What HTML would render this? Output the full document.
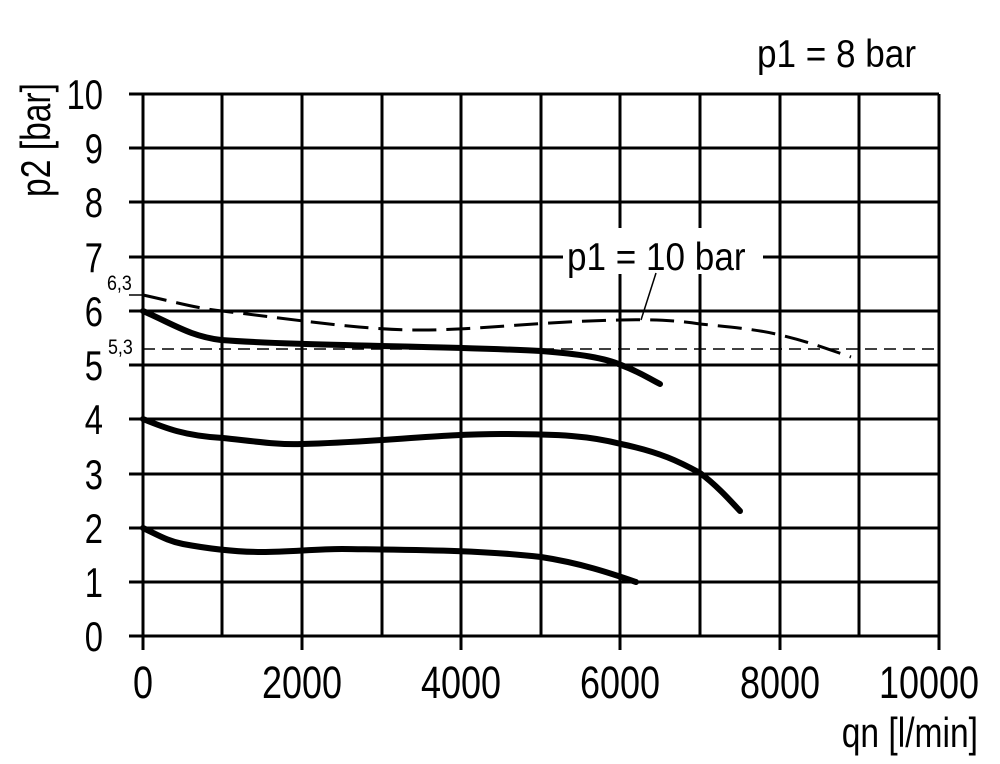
<!DOCTYPE html>
<html><head><meta charset="utf-8"><style>
html,body{margin:0;padding:0;background:#fff;}
svg{display:block;font-family:"Liberation Sans",Arial,sans-serif;}
</style></head><body>
<svg width="1000" height="764" viewBox="0 0 1000 764" xmlns="http://www.w3.org/2000/svg">
<g stroke="#000" stroke-width="3" fill="none">
<line x1="129" y1="94" x2="939" y2="94"/>
<line x1="129" y1="148" x2="939" y2="148"/>
<line x1="129" y1="202" x2="939" y2="202"/>
<line x1="129" y1="257" x2="939" y2="257"/>
<line x1="129" y1="311" x2="939" y2="311"/>
<line x1="129" y1="365" x2="939" y2="365"/>
<line x1="129" y1="419" x2="939" y2="419"/>
<line x1="129" y1="474" x2="939" y2="474"/>
<line x1="129" y1="528" x2="939" y2="528"/>
<line x1="129" y1="582" x2="939" y2="582"/>
<line x1="129" y1="636" x2="939" y2="636"/>
<line x1="143" y1="94" x2="143" y2="650"/>
<line x1="222" y1="94" x2="222" y2="636"/>
<line x1="302" y1="94" x2="302" y2="650"/>
<line x1="382" y1="94" x2="382" y2="636"/>
<line x1="461" y1="94" x2="461" y2="650"/>
<line x1="541" y1="94" x2="541" y2="636"/>
<line x1="620" y1="94" x2="620" y2="650"/>
<line x1="700" y1="94" x2="700" y2="636"/>
<line x1="780" y1="94" x2="780" y2="650"/>
<line x1="859" y1="94" x2="859" y2="636"/>
<line x1="939" y1="94" x2="939" y2="650"/>
</g>
<rect x="563" y="228" width="200" height="46" fill="#fff"/>
<text transform="translate(567,270) scale(0.9,1)" font-size="39">p1 = 10 bar</text>
<line x1="656" y1="273" x2="641" y2="320" stroke="#000" stroke-width="1.5"/>
<line x1="143" y1="349" x2="939" y2="349" stroke="#000" stroke-width="1.5" stroke-dasharray="12,7"/>
<line x1="129" y1="295" x2="143" y2="295" stroke="#000" stroke-width="1.5"/>
<path d="M143,295 C175,302 195,308 222,311 C300,320 360,330 421,330 C480,330 530,322 620,320 C660,319 680,321 700,324 C740,328 760,330 780,335 C810,342 830,350 851,357" stroke="#000" stroke-width="3" fill="none" stroke-dasharray="24,10"/>
<g stroke="#000" stroke-width="6" fill="none" stroke-linecap="round">
<path d="M143,311 C175,325 190,336 221,340 C300,346 450,346 541,351 C580,354 605,358 621,365 C640,372 648,378 660,384"/>
<path d="M143,419 C165,428 185,436 223,438 C260,442 280,445 302,444 C380,442 440,434 501,434 C560,434 590,436 621,444 C660,452 680,462 700,473 C715,484 728,498 740,511"/>
<path d="M143,528 C160,536 168,541 183,544 C210,549 235,552 262,552 C290,552 315,549 342,549 C420,550 480,550 541,557 C580,563 610,573 636,582"/>
</g>
<text transform="translate(757,67) scale(0.9,1)" font-size="39">p1 = 8 bar</text>
<g font-size="42" text-anchor="end">
<text transform="translate(103,109) scale(0.78,1)">10</text>
<text transform="translate(103,163) scale(0.78,1)">9</text>
<text transform="translate(103,217) scale(0.78,1)">8</text>
<text transform="translate(103,272) scale(0.78,1)">7</text>
<text transform="translate(103,326) scale(0.78,1)">6</text>
<text transform="translate(103,380) scale(0.78,1)">5</text>
<text transform="translate(103,434) scale(0.78,1)">4</text>
<text transform="translate(103,489) scale(0.78,1)">3</text>
<text transform="translate(103,543) scale(0.78,1)">2</text>
<text transform="translate(103,597) scale(0.78,1)">1</text>
<text transform="translate(103,651) scale(0.78,1)">0</text>
</g>
<text transform="translate(107,290) scale(0.85,1)" font-size="21">6,3</text>
<text transform="translate(108,354) scale(0.85,1)" font-size="21">5,3</text>
<g font-size="45" text-anchor="middle">
<text transform="translate(143,698) scale(0.8,1)">0</text>
<text transform="translate(302,698) scale(0.8,1)">2000</text>
<text transform="translate(461,698) scale(0.8,1)">4000</text>
<text transform="translate(620,698) scale(0.8,1)">6000</text>
<text transform="translate(780,698) scale(0.8,1)">8000</text>
<text transform="translate(929,698) scale(0.8,1)">10000</text>
</g>
<text transform="translate(978,747) scale(0.8,1)" font-size="42" text-anchor="end">qn [l/min]</text>
<text transform="translate(50,140) rotate(-90) scale(0.8,1)" font-size="42" text-anchor="middle">p2 [bar]</text>
</svg>
</body></html>
